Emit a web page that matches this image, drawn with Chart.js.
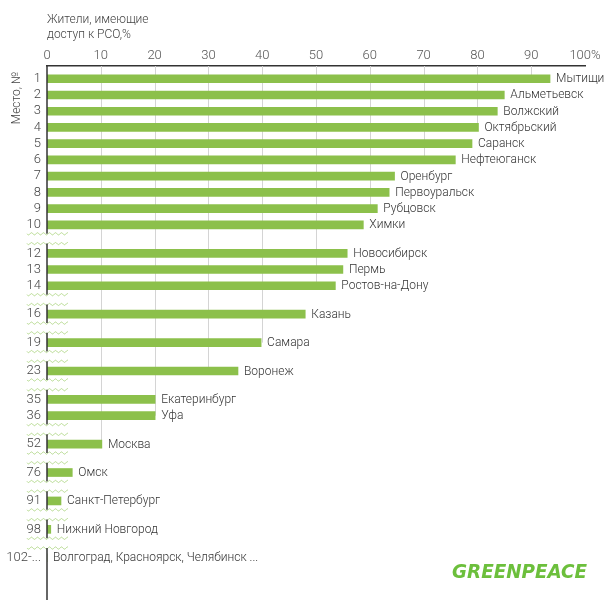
<!DOCTYPE html>
<html>
<head>
<meta charset="utf-8">
<script src="https://cdn.jsdelivr.net/npm/chart.js@4"></script>
<style>
  html, body { margin: 0; padding: 0; background: #fff; }
  canvas { display: block; }
</style>
</head>
<body>
<canvas id="myChart" width="605" height="600"></canvas>
<script>
// place in ranking, as printed on the left
var ranks = ["1", "2", "3", "4", "5", "6", "7", "8", "9", "10",
  "12", "13", "14", "16", "19", "23", "35", "36", "52", "76", "91", "98", "102-..."];

var cities = ["Мытищи", "Альметьевск", "Волжский", "Октябрьский", "Саранск",
  "Нефтеюганск", "Оренбург", "Первоуральск", "Рубцовск", "Химки",
  "Новосибирск", "Пермь", "Ростов-на-Дону", "Казань", "Самара", "Воронеж",
  "Екатеринбург", "Уфа", "Москва", "Омск", "Санкт-Петербург", "Нижний Новгород",
  "Волгоград, Красноярск, Челябинск ..."];

// residents with access to separate waste collection, %
var shares = [93.5, 85.0, 83.7, 80.2, 79.0, 75.9, 64.6, 63.6, 61.4, 58.8,
  55.8, 55.0, 53.6, 48.0, 39.8, 35.5, 20.1, 20.1, 10.2, 4.7, 2.6, 0.7, 0];

var xTicks = ["0", "10", "20", "30", "40", "50", "60", "70", "80", "90", "100%"];

var FONT = "Roboto, 'Liberation Sans', sans-serif";
var GREEN = "#8cc04b";
var GAP = 0.75; // extra room where the ranking skips places

// row positions on the y scale: one unit per row, a bit more where ranks jump
var rowPos = [];
var cuts = []; // [pos before cut, pos after cut]
var p = 0, prev = null;
for (var i = 0; i < ranks.length; i++) {
  var r = parseInt(ranks[i], 10);
  if (prev !== null) {
    var np = p + 1 + (r - prev > 1 ? GAP : 0);
    if (r - prev > 1) cuts.push([p, np]);
    p = np;
  }
  rowPos.push(p);
  prev = r;
}
var points = shares.map(function (v, k) { return { x: v, y: rowPos[k] }; });

function drawWave(ctx, x0, x1, y) {
  ctx.beginPath();
  for (var x = x0; x <= x1; x += 0.5) {
    var yy = y + 1.1 * Math.sin((x - x0) / 6 * Math.PI * 2);
    if (x === x0) ctx.moveTo(x, yy); else ctx.lineTo(x, yy);
  }
  ctx.stroke();
}

var decorPlugin = {
  id: "decor",
  beforeDatasetsDraw: function (chart) {
    var ctx = chart.ctx;
    var xs = chart.scales.x;
    var ys = chart.scales.y;
    var area = chart.chartArea;
    ctx.save();
    // grid lines run down only as far as the last bar that reaches them
    ctx.strokeStyle = "#d4d4d4";
    ctx.lineWidth = 1;
    for (var v = 10; v < 100; v += 10) {
      var lastY = null;
      for (var i = 0; i < shares.length; i++) {
        if (shares[i] >= v - 0.5) lastY = ys.getPixelForValue(rowPos[i]);
      }
      if (lastY === null) continue;
      var px = Math.round(xs.getPixelForValue(v)) + 0.5;
      ctx.beginPath();
      ctx.moveTo(px, area.top);
      ctx.lineTo(px, lastY);
      ctx.stroke();
    }
    ctx.restore();
  },
  afterDatasetsDraw: function (chart) {
    var ctx = chart.ctx;
    var xs = chart.scales.x;
    var ys = chart.scales.y;
    var area = chart.chartArea;
    var unit = ys.getPixelForValue(1) - ys.getPixelForValue(0);
    ctx.save();

    // city names next to the bars
    ctx.font = "300 12px " + FONT;
    ctx.fillStyle = "#333";
    ctx.textBaseline = "middle";
    ctx.textAlign = "left";
    for (var i = 0; i < shares.length; i++) {
      var x = xs.getPixelForValue(shares[i]) + 6;
      ctx.fillText(cities[i], x, ys.getPixelForValue(rowPos[i]) + 0.5);
    }

    // broken left axis with wavy cuts
    var axisX = area.left;
    var segTop = area.top;
    for (var j = 0; j < cuts.length; j++) {
      var yA = ys.getPixelForValue(cuts[j][0]) + 0.55 * unit;
      var yB = ys.getPixelForValue(cuts[j][1]) - 0.6 * unit;
      ctx.strokeStyle = "#333";
      ctx.lineWidth = 1.5;
      ctx.beginPath();
      ctx.moveTo(axisX, segTop);
      ctx.lineTo(axisX, yA);
      ctx.stroke();
      ctx.strokeStyle = "#b3d88c";
      ctx.lineWidth = 1;
      drawWave(ctx, 27, 68, yA);
      drawWave(ctx, 27, 68, yB);
      segTop = yB;
    }
    ctx.strokeStyle = "#333";
    ctx.lineWidth = 1.5;
    ctx.beginPath();
    ctx.moveTo(axisX, segTop);
    ctx.lineTo(axisX, chart.height);
    ctx.stroke();

    // titles
    ctx.fillStyle = "#444";
    ctx.font = "300 12px " + FONT;
    ctx.textAlign = "left";
    ctx.fillText("Жители, имеющие", 47, 20);
    ctx.fillText("доступ к РСО,%", 47, 35);

    ctx.save();
    ctx.translate(17, 98);
    ctx.rotate(-Math.PI / 2);
    ctx.textAlign = "center";
    ctx.font = "300 12px " + FONT;
    ctx.fillText("Место, №", 0, 0);
    ctx.restore();

    // logo
    ctx.font = "italic bold 19px 'DejaVu Sans Condensed', 'Liberation Sans Narrow', sans-serif";
    ctx.fillStyle = "#6cbf3c";
    ctx.textBaseline = "alphabetic";
    var w = ctx.measureText("GREENPEACE").width;
    ctx.save();
    ctx.translate(452, 578);
    ctx.scale(135 / w, 1);
    ctx.fillText("GREENPEACE", 0, 0);
    ctx.restore();

    ctx.restore();
  }
};

var ctx = document.getElementById("myChart").getContext("2d");
var chart = new Chart(ctx, {
  type: "bar",
  data: {
    datasets: [
      {
        data: points,
        backgroundColor: GREEN,
        borderWidth: 0,
        barThickness: 8
      }
    ]
  },
  options: {
    indexAxis: "y",
    responsive: false,
    animation: false,
    devicePixelRatio: 1,
    layout: { padding: { top: 40, right: 20, bottom: 23, left: 0 } },
    plugins: {
      legend: { display: false },
      tooltip: { enabled: false }
    },
    scales: {
      x: {
        type: "linear",
        position: "top",
        min: 0,
        max: 100,
        ticks: {
          stepSize: 10,
          padding: 2,
          color: "#555",
          font: { family: FONT, size: 13, weight: 300 },
          callback: function (value) { return xTicks[value / 10]; }
        },
        grid: { display: false, drawTicks: false },
        border: { color: "#333", width: 1.5 },
        afterFit: function (scale) { scale.height = 26; }
      },
      y: {
        type: "linear",
        reverse: true,
        min: -0.1,
        max: rowPos[rowPos.length - 1] + 0.5,
        afterBuildTicks: function (scale) {
          scale.ticks = rowPos.map(function (v) { return { value: v }; });
        },
        ticks: {
          autoSkip: false,
          padding: 6,
          color: "#444",
          font: { family: FONT, size: 13, weight: 300 },
          callback: function (value, index) { return ranks[index]; }
        },
        grid: { display: false, drawTicks: false },
        border: { display: false },
        afterFit: function (scale) { scale.width = 47; }
      }
    }
  },
  plugins: [decorPlugin]
});
</script>
</body>
</html>
